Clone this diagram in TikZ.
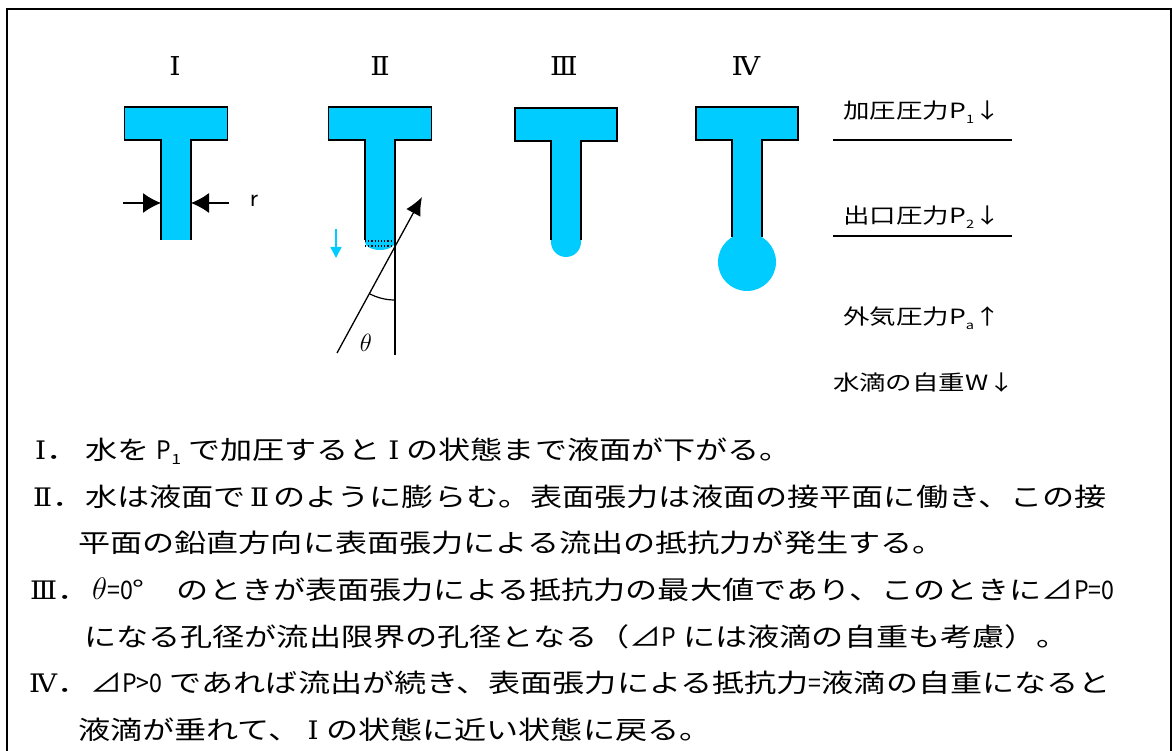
\documentclass[tikz,border=0pt]{standalone}
\usepackage{fontspec}
\usetikzlibrary{arrows.meta}
\newfontfamily\jpfont[FakeStretch=1.26]{Noto Sans CJK JP}
\newfontfamily\romfont[FakeStretch=1.1]{DejaVu Serif}
\definecolor{water}{RGB}{0,204,255}
\newcommand{\lowidx}[1]{\raisebox{-.22em}{\scalebox{.55}{#1}}}
\newcommand{\rom}[1]{{\romfont #1}}
\newcommand{\narrow}[1]{\scalebox{.72}[1]{#1}}

\begin{document}
\begin{tikzpicture}[x=1pt,y=-1pt,>={Latex[length=18pt,width=20pt]}]
  \tikzstyle{rim}=[line width=1.6pt,line join=miter]
  \tikzstyle{numeral}=[inner sep=0pt,font=\romfont\fontsize{26}{28}\selectfont]
  \tikzstyle{force}=[inner sep=0pt,font=\jpfont\fontsize{21}{24}\selectfont]
  \tikzstyle{stmt}=[anchor=base west,inner sep=0pt,font=\jpfont\fontsize{25.5}{30}\selectfont]
  \useasboundingbox (0,0) rectangle (1173,751);
  \draw[line width=2.2pt] (7,9) rectangle (1171,780);
  % nozzle I
  \begin{scope}[shift={(176,107)}]
    \fill[water] (-15,133) -- (-15,33) -- (-51.5,33) -- (-51.5,0) -- (51.5,0)
      -- (51.5,33) -- (15,33) -- (15,133) -- cycle;
    \draw[rim] (-15,133) -- (-15,33) -- (-51.5,33) -- (-51.5,0) -- (51.5,0)
      -- (51.5,33) -- (15,33) -- (15,133);
    \coordinate (ra) at (-53,96);
    \coordinate (rb) at (-15,96);
    \coordinate (rc) at (53,96);
    \coordinate (rd) at (15,96);
    \draw[->,line width=1.3pt] (ra) -- (rb);
    \draw[->,line width=1.3pt] (rc) -- (rd);
    \node[font=\sffamily\fontsize{26}{28}\selectfont] (r) at (78,94) {r};
  \end{scope}
  % nozzle II
  \begin{scope}[shift={(380,107)}]
    \fill[water] (-15,136) -- (-15,33) -- (-51.5,33) -- (-51.5,0) -- (51.5,0)
      -- (51.5,33) -- (15,33) -- (15,136) -- cycle;
    \fill[water] (-15,135) arc[start angle=180,end angle=0,x radius=15,y radius=8];
    \draw[rim] (-15,133) -- (-15,33) -- (-51.5,33) -- (-51.5,0) -- (51.5,0)
      -- (51.5,33) -- (15,33) -- (15,248);
    \draw[dotted,line width=1.2pt] (-15,134) -- (15,134);
    \draw[dotted,line width=1.2pt] (-15,139) -- (15,139);
    \coordinate (tail) at (-43,246);
    \coordinate (tip) at (42,90);
    \draw[-{Latex[length=18pt,width=16pt]},line width=1.3pt] (tail) -- (tip);
    \draw[line width=1.2pt] (15,193) arc[start angle=90,end angle=118.2,radius=55];
    \node[font=\fontsize{28}{30}\selectfont] (theta) at (-14,236) {$\theta$};
    \coordinate (da) at (-44,122);
    \coordinate (db) at (-44,151);
    \draw[water,line width=1.5pt,-{Triangle[length=11pt,width=11pt]}] (da) -- (db);
  \end{scope}
  % nozzle III
  \begin{scope}[shift={(566,108)}]
    \fill[water] (-15,134) -- (-15,33) -- (-51,33) -- (-51,0) -- (51,0)
      -- (51,33) -- (15,33) -- (15,134) -- cycle;
    \fill[water] (15,134) arc[start angle=0,end angle=180,radius=15] -- cycle;
    \draw[rim] (-15,132) -- (-15,33) -- (-51,33) -- (-51,0) -- (51,0)
      -- (51,33) -- (15,33) -- (15,132);
  \end{scope}
  % nozzle IV
  \begin{scope}[shift={(747,107)}]
    \fill[water] (-15,140) -- (-15,33) -- (-51,33) -- (-51,0) -- (51,0)
      -- (51,33) -- (15,33) -- (15,140) -- cycle;
    \draw[rim] (-15,130) -- (-15,33) -- (-51,33) -- (-51,0) -- (51,0)
      -- (51,33) -- (15,33) -- (15,130);
    \fill[water] (0,155) circle[radius=29];
  \end{scope}
  % state numbers
  \node[numeral] (n1) at (175,66) {Ⅰ};
  \node[numeral] (n2) at (380,66) {Ⅱ};
  \node[numeral] (n3) at (564,66) {Ⅲ};
  \node[numeral] (n4) at (746,66) {Ⅳ};
  % pressures
  \node[force] (f1) at (922,112) {加圧圧力P\lowidx{1}↓};
  \draw[line width=1.3pt] (833,140) -- (1012,140);
  \node[force] (f2) at (922,217) {出口圧力P\lowidx{2}↓};
  \draw[line width=1.3pt] (833,236) -- (1012,236);
  \node[force] (f3) at (922,318) {外気圧力P\lowidx{a}↑};
  \node[force] (f4) at (924,383) {水滴の自重W↓};
  % explanation
  \node[stmt] (s1n) at (35,459) {\rom{Ⅰ}．};
  \node[stmt] (s1) at (85,459) {水を\ \narrow{P}\lowidx{1}\ で加圧すると\ \rom{Ⅰ}\ の状態まで液面が下がる。};
  \node[stmt] (s2n) at (33,506) {\rom{Ⅱ}．};
  \node[stmt] (s2) at (85,506) {水は液面で\,\rom{Ⅱ}\,のように膨らむ。表面張力は液面の接平面に働き、この接};
  \node[stmt] (s3) at (78,552) {平面の鉛直方向に表面張力による流出の抵抗力が発生する。};
  \node[stmt] (s4n) at (30,599) {\rom{Ⅲ}．};
  \node[stmt] (s4) at (92,599) {\scalebox{1.25}{$\theta$}\narrow{=0}°　のときが表面張力による抵抗力の最大値であり、このときに⊿\narrow{P=0}};
  \node[stmt] (s5) at (84,646) {になる孔径が流出限界の孔径となる（⊿\narrow{P} には液滴の自重も考慮）。};
  \node[stmt] (s6n) at (29,692) {\rom{Ⅳ}．};
  \node[stmt] (s6) at (90,692) {⊿\narrow{P>0} であれば流出が続き、表面張力による抵抗力\narrow{=}液滴の自重になると};
  \node[stmt] (s7) at (78,739) {液滴が垂れて、\ \rom{Ⅰ}\ の状態に近い状態に戻る。};
\end{tikzpicture}
\end{document}
